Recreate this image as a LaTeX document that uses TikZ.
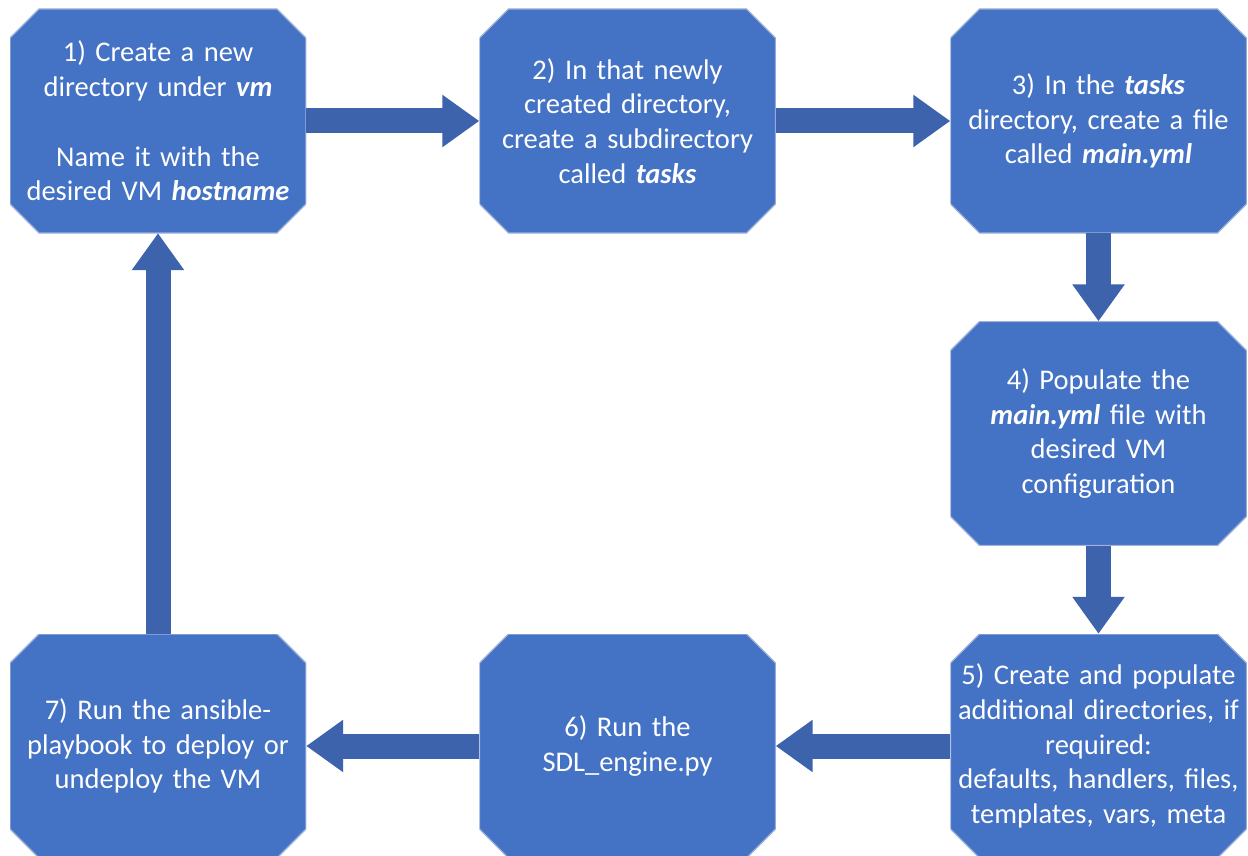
\documentclass[tikz,border=0pt]{standalone}
\usepackage{fontspec}
\setmainfont{Carlito}
\usetikzlibrary{arrows.meta}
\definecolor{boxblue}{HTML}{4472C4}
\definecolor{boxedge}{HTML}{9DB1DA}
\definecolor{arrowblue}{HTML}{3D63AC}
\begin{document}
\begin{tikzpicture}[x=1pt,y=-1pt,
  stepbox/.style={minimum width=296pt, minimum height=224pt, inner sep=0pt,
    text width=296pt, align=center, text=white,
    font=\fontsize{28.5pt}{34.7pt}\selectfont,
    path picture={
      \fill[boxblue,draw=boxedge,line width=1.2pt]
        ([xshift=29pt]path picture bounding box.north west) --
        ([xshift=-29pt]path picture bounding box.north east) --
        ([yshift=-29pt]path picture bounding box.north east) --
        ([yshift=29pt]path picture bounding box.south east) --
        ([xshift=-29pt]path picture bounding box.south east) --
        ([xshift=29pt]path picture bounding box.south west) --
        ([yshift=29pt]path picture bounding box.south west) --
        ([yshift=-29pt]path picture bounding box.north west) -- cycle;
    }},
  blockarrow/.style={draw=arrowblue, line width=25pt,
    -{Triangle[width=50pt,length=37pt]}, arrowblue}]
\useasboundingbox (0,0) rectangle (1248,856);
\node[stepbox] (b1) at (158,121) {1) Create a new\\directory under \textbf{\textit{vm}}\\[34.7pt]Name it with the\\desired VM \textbf{\textit{hostname}}};
\node[stepbox] (b2) at (627.5,121) {2) In that newly\\created directory,\\create a subdirectory\\called \textbf{\textit{tasks}}};
\node[stepbox] (b3) at (1098.5,121) {3) In the \textbf{\textit{tasks}}\\\mbox{directory, create a file}\\called \textbf{\textit{main.yml}}};
\node[stepbox] (b4) at (1098.5,433.5) {4) Populate the\\\textbf{\textit{main.yml}} file with\\desired VM\\configuration};
\node[stepbox] (b5) at (1098.5,746) {5) Create and populate\\\mbox{additional directories, if}\\required:\\\mbox{defaults, handlers, files,}\\\mbox{templates, vars, meta}};
\node[stepbox] (b6) at (627.5,746) {6) Run the\\SDL\_engine.py};
\node[stepbox] (b7) at (158,746) {7) Run the ansible-\\playbook to deploy or\\undeploy the VM};
\draw[blockarrow] (b1.east) -- (b2.west);
\draw[blockarrow] (b2.east) -- (b3.west);
\draw[blockarrow] (b3.south) -- (b4.north);
\draw[blockarrow] (b4.south) -- (b5.north);
\draw[blockarrow] (b5.west) -- (b6.east);
\draw[blockarrow] (b6.west) -- (b7.east);
\draw[blockarrow] (b7.north) -- (b1.south);
\end{tikzpicture}
\end{document}
